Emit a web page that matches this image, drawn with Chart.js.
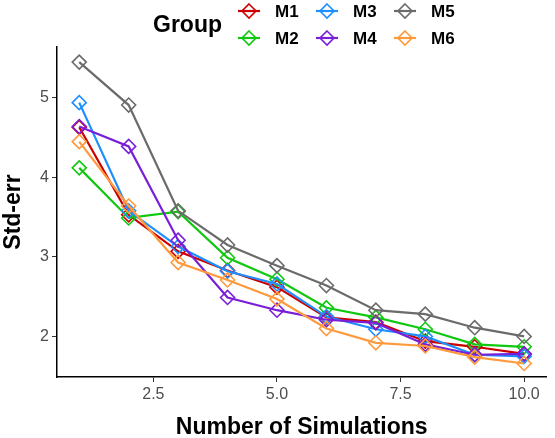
<!DOCTYPE html>
<html>
<head>
<meta charset="utf-8">
<script src="https://cdn.jsdelivr.net/npm/chart.js@4"></script>
<style>
body{margin:0;background:#fff;}
canvas{display:block;}
</style>
</head>
<body>
<canvas id="chart" width="555" height="438"></canvas>
<script>
// values
const sims = [1, 2, 3, 4, 5, 6, 7, 8, 9, 10];
const groups = ["M1", "M2", "M3", "M4", "M5", "M6"];
const m1 = [4.63, 3.53, 3.07, 2.83, 2.62, 2.24, 2.18, 1.94, 1.87, 1.78];
const m2 = [4.12, 3.49, 3.57, 2.99, 2.72, 2.36, 2.24, 2.09, 1.90, 1.87];
const m3 = [4.94, 3.58, 3.13, 2.82, 2.66, 2.25, 2.09, 2.00, 1.77, 1.75];
const m4 = [4.64, 4.39, 3.21, 2.49, 2.33, 2.21, 2.17, 1.90, 1.77, 1.78];
const m5 = [5.45, 4.91, 3.58, 3.15, 2.89, 2.64, 2.33, 2.28, 2.11, 2.00];
const m6 = [4.45, 3.64, 2.93, 2.71, 2.47, 2.10, 1.92, 1.88, 1.74, 1.66];
const xTicks = [2.5, 5.0, 7.5, 10.0];
const yTicks = [2, 3, 4, 5];

const colors = ["#cc0000", "#10c810", "#1e8fff", "#7a1fd8", "#6b6b6b", "#ff9a3c"];
const series = [m1, m2, m3, m4, m5, m6];
const font = "'Liberation Sans', Arial, Helvetica, sans-serif";

const datasets = series.map((vals, i) => ({
  label: groups[i],
  data: sims.map((x, j) => ({x: x, y: vals[j]})),
  borderColor: colors[i],
  borderWidth: 2.2,
  pointStyle: "rectRot",
  pointRadius: 7,
  pointBorderWidth: 1.6,
  pointBorderColor: colors[i],
  pointBackgroundColor: "rgba(0,0,0,0)",
  order: 6 - i,
  tension: 0
}));

// ggplot-like legend on top: title + 3 columns x 2 rows
const groupLegend = {
  id: "groupLegend",
  afterDraw(chart) {
    const ctx = chart.ctx;
    ctx.save();
    ctx.fillStyle = "#000";
    ctx.font = "bold 23px " + font;
    ctx.textBaseline = "middle";
    ctx.textAlign = "left";
    ctx.fillText("Group", 153, 26);
    const colX = [249, 327, 405];
    const rowY = [11, 38];
    groups.forEach((g, i) => {
      const cx = colX[Math.floor(i / 2)];
      const cy = rowY[i % 2];
      ctx.strokeStyle = colors[i];
      ctx.lineWidth = 2.2;
      ctx.beginPath();
      ctx.moveTo(cx - 11, cy);
      ctx.lineTo(cx + 11, cy);
      ctx.stroke();
      ctx.lineWidth = 1.6;
      ctx.beginPath();
      ctx.moveTo(cx, cy - 7);
      ctx.lineTo(cx + 7, cy);
      ctx.lineTo(cx, cy + 7);
      ctx.lineTo(cx - 7, cy);
      ctx.closePath();
      ctx.stroke();
      ctx.fillStyle = "#000";
      ctx.font = "bold 17px " + font;
      ctx.fillText(g, cx + 26, cy + 1);
    });
    ctx.restore();
  }
};

new Chart(document.getElementById("chart"), {
  type: "line",
  data: {datasets: datasets},
  options: {
    responsive: false,
    animation: false,
    devicePixelRatio: 1,
    layout: {padding: {top: 47, right: 1, left: 0, bottom: 0}},
    plugins: {
      legend: {display: false},
      tooltip: {enabled: false}
    },
    scales: {
      x: {
        type: "linear",
        min: 0.55,
        max: 10.45,
        afterBuildTicks: s => { s.ticks = xTicks.map(v => ({value: v})); },
        afterFit: s => { s.height = 61; },
        ticks: {
          callback: v => Number(v).toFixed(1),
          color: "#4d4d4d",
          font: {family: font, size: 16},
          padding: 3,
          maxRotation: 0
        },
        grid: {display: true, drawOnChartArea: false, drawTicks: true, tickLength: 5, color: "#333", lineWidth: 1},
        border: {display: true, color: "#000", width: 1.5},
        title: {display: true, text: "Number of Simulations", color: "#000", font: {family: font, size: 23, weight: "bold"}, padding: {top: 0, bottom: -3}}
      },
      y: {
        type: "linear",
        min: 1.49,
        max: 5.64,
        afterBuildTicks: s => { s.ticks = yTicks.map(v => ({value: v})); },
        afterFit: s => { s.width = 57; },
        ticks: {
          color: "#4d4d4d",
          font: {family: font, size: 16},
          padding: 3
        },
        grid: {display: true, drawOnChartArea: false, drawTicks: true, tickLength: 5, color: "#333", lineWidth: 1},
        border: {display: true, color: "#000", width: 1.5},
        title: {display: true, text: "Std-err", color: "#000", font: {family: font, size: 23, weight: "bold"}, padding: {top: 0, bottom: 0}}
      }
    }
  },
  plugins: [groupLegend]
});
</script>
</body>
</html>
